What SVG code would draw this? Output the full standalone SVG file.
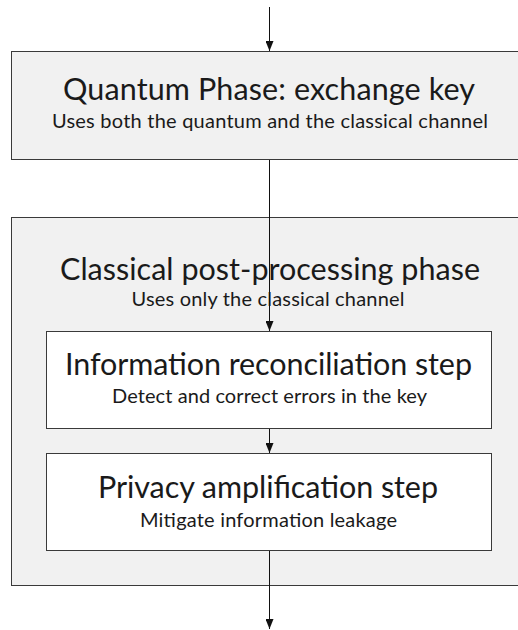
<svg xmlns="http://www.w3.org/2000/svg" width="518" height="630" viewBox="0 0 518 630">
  <defs>
    <marker id="arrow" viewBox="0 0 10 8" refX="10" refY="4" markerWidth="10" markerHeight="8" markerUnits="userSpaceOnUse" orient="auto">
      <path d="M0,0 L10,4 L0,8 Z" fill="#111"/>
    </marker>
    <style>
      .phase { fill: #f1f1f1; stroke: #3a3a3a; stroke-width: 1; }
      .step { fill: #ffffff; stroke: #3a3a3a; stroke-width: 1; }
      .title { font-family: Lato, "Noto Sans", sans-serif; font-size: 30.5px; fill: #1a1a1a; text-anchor: middle; }
      .sub { font-family: Lato, "Noto Sans", sans-serif; font-size: 20px; fill: #1a1a1a; text-anchor: middle; }
      .conn { stroke: #111; stroke-width: 1; fill: none; marker-end: url(#arrow); }
    </style>
  </defs>
  <rect width="518" height="630" fill="#ffffff"/>

  <g id="quantum-phase">
    <rect class="phase" x="11.5" y="51.5" width="516" height="108"/>
    <text class="title" x="269" y="100" textLength="412">Quantum Phase: exchange key</text>
    <text class="sub" x="270" y="128" textLength="436">Uses both the quantum and the classical channel</text>
  </g>

  <g id="classical-phase">
    <rect class="phase" x="11.5" y="217.5" width="516" height="368"/>
    <text class="title" x="270" y="280" textLength="420">Classical post-processing phase</text>
    <text class="sub" x="268" y="306" textLength="273">Uses only the classical channel</text>
  </g>

  <g id="reconciliation-step">
    <rect class="step" x="46.5" y="331.5" width="445" height="97"/>
    <text class="title" x="268.5" y="375" textLength="407">Information reconciliation step</text>
    <text class="sub" x="269.5" y="403" textLength="315">Detect and correct errors in the key</text>
  </g>

  <g id="amplification-step">
    <rect class="step" x="46.5" y="453.5" width="445" height="97"/>
    <text class="title" x="268" y="498" textLength="340">Privacy amplification step</text>
    <text class="sub" x="268.5" y="527" textLength="257">Mitigate information leakage</text>
  </g>

  <g id="connectors">
    <line class="conn" x1="269.5" y1="7" x2="269.5" y2="51"/>
    <line class="conn" x1="269.5" y1="160" x2="269.5" y2="331"/>
    <line class="conn" x1="269.5" y1="429" x2="269.5" y2="453"/>
    <line class="conn" x1="269.5" y1="551" x2="269.5" y2="629"/>
  </g>
</svg>
